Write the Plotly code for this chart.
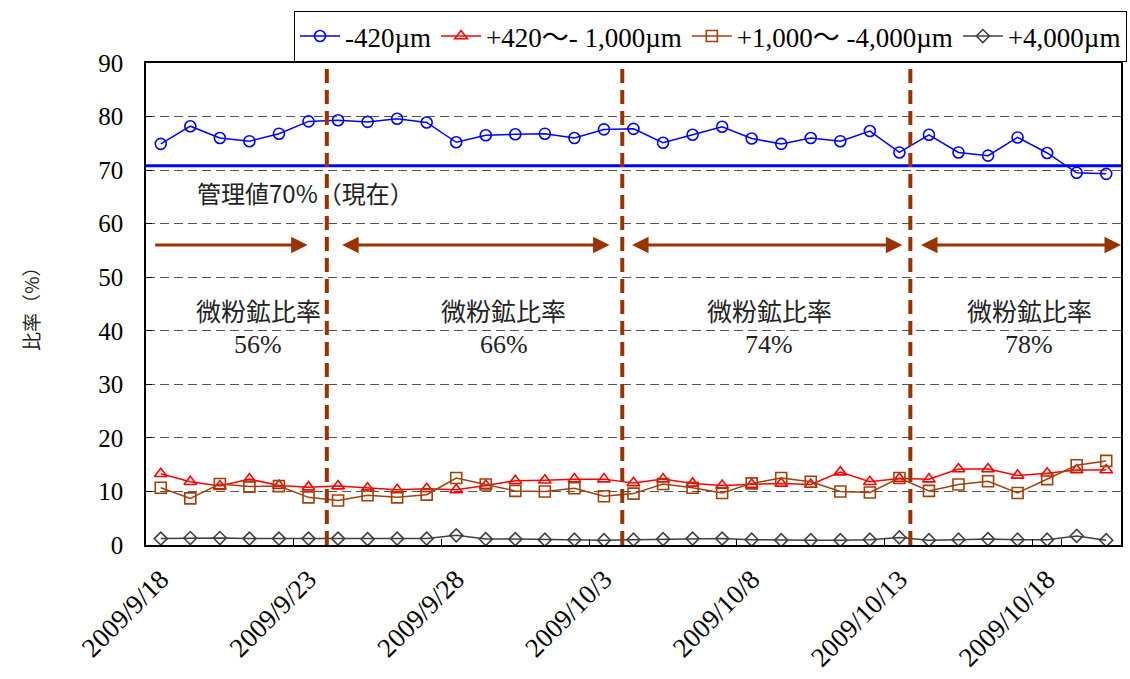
import plotly.graph_objects as go
import datetime as dt

start = dt.date(2009, 9, 18)
dates = [f"{(start + dt.timedelta(days=i)).year}/{(start + dt.timedelta(days=i)).month}/{(start + dt.timedelta(days=i)).day}" for i in range(33)]

fine_420 = [74.9, 78.2, 76.0, 75.4, 76.8, 79.1, 79.3, 79.0, 79.6, 78.9, 75.2, 76.5, 76.7, 76.8, 76.0, 77.6,
            77.7, 75.1, 76.6, 78.1, 75.9, 74.9, 76.0, 75.4, 77.3, 73.3, 76.6, 73.3, 72.7, 76.1, 73.2, 69.5, 69.3]
mid_420_1000 = [13.3, 11.8, 11.0, 12.3, 11.1, 10.8, 11.0, 10.6, 10.3, 10.5, 10.3, 11.1, 12.0, 12.1, 12.3, 12.3,
                11.6, 12.3, 11.5, 11.1, 11.3, 11.5, 11.3, 13.6, 11.8, 12.4, 12.3, 14.2, 14.2, 13.0, 13.4, 14.0, 14.0]
mid_1000_4000 = [10.7, 8.7, 11.4, 10.9, 11.0, 8.9, 8.3, 9.3, 8.9, 9.4, 12.5, 11.3, 10.1, 10.0, 10.6, 9.1,
                 9.6, 11.4, 10.7, 9.7, 11.5, 12.5, 11.8, 10.0, 9.8, 12.5, 10.1, 11.3, 11.9, 9.7, 12.3, 14.9, 15.7]
coarse_4000 = [1.2, 1.3, 1.3, 1.2, 1.2, 1.2, 1.2, 1.1, 1.2, 1.2, 1.8, 1.1, 1.1, 1.0, 1.0, 0.9,
               1.0, 1.1, 1.2, 1.2, 1.0, 0.9, 0.9, 0.9, 1.0, 1.4, 0.9, 1.0, 1.1, 1.0, 1.0, 1.7, 0.9]

series_names = ["-420µm", "+420～- 1,000µm", "+1,000～ -4,000µm", "+4,000µm"]
control_value = 70.8
period_title = "微粉鉱比率"
period_ratios = ["56%", "66%", "74%", "78%"]
period_label_x = [3.3, 11.6, 20.6, 29.4]
period_boundaries = [5.62, 15.62, 25.37]
arrow_spans = [(-0.24, 4.97, "end"), (6.09, 15.19, "end+start"), (15.9, 25.1, "end+start"), (25.68, 32.5, "end+start")]
arrow_level = 56
tick_dates = dates[::5]

SERIF = "Liberation Serif, Noto Sans CJK JP, serif"
CJK = "Noto Sans CJK JP, Liberation Serif"
BROWN = "#993300"

fig = go.Figure()
styles = [
    (fine_420, "#0000FF", "circle-open", 11),
    (mid_420_1000, "#FF0000", "triangle-up-open", 11),
    (mid_1000_4000, "#A0400A", "square-open", 11),
    (coarse_4000, "#404040", "diamond-open", 10),
]
for name, (vals, col, sym, sz) in zip(series_names, styles):
    fig.add_trace(go.Scatter(
        x=dates, y=vals, name=name, mode="lines+markers",
        line=dict(color=col, width=1.5),
        marker=dict(symbol=sym, size=sz, color=col, line=dict(color=col, width=1.6)),
    ))

fig.add_shape(type="line", xref="paper", x0=0, x1=1, yref="y", y0=control_value, y1=control_value,
              line=dict(color="#0000FF", width=3))
for b in period_boundaries:
    fig.add_shape(type="line", xref="x", x0=b, x1=b, yref="paper", y0=0, y1=1,
                  line=dict(color=BROWN, width=4, dash="14px,7px"))

annotations = []
annotations.append(dict(x=4.9, y=65.9, xref="x", yref="y", text="管理値70%（現在）", showarrow=False,
                        font=dict(family=CJK, size=24, color="#222")))
for lx, ratio in zip(period_label_x, period_ratios):
    annotations.append(dict(x=lx, y=43.9, xref="x", yref="y", text=period_title, showarrow=False,
                            font=dict(family=CJK, size=25, color="#222")))
    annotations.append(dict(x=lx, y=37.4, xref="x", yref="y", text=ratio, showarrow=False,
                            font=dict(family=SERIF, size=26, color="#222")))
for x0, x1, side in arrow_spans:
    annotations.append(dict(x=x1, y=arrow_level, ax=x0, ay=arrow_level, xref="x", yref="y",
                            axref="x", ayref="y", showarrow=True, arrowhead=2, arrowsize=1.1,
                            arrowwidth=3, arrowcolor=BROWN, arrowside=side, text=""))
annotations.append(dict(x=-0.119, y=0.5, xref="paper", yref="paper", xanchor="center", yanchor="middle",
                        text="比率（%）", textangle=-90,
                        showarrow=False, font=dict(family=CJK, size=19, color="#222")))

fig.update_layout(
    width=1130, height=679,
    margin=dict(l=146, r=9, t=63, b=134),
    plot_bgcolor="white", paper_bgcolor="white",
    font=dict(family=SERIF, size=22, color="black"),
    annotations=annotations,
    showlegend=True,
    legend=dict(orientation="h", xref="container", yref="container",
                x=1127 / 1130, xanchor="right", y=1 - 11 / 679, yanchor="top",
                bordercolor="black", borderwidth=1, font=dict(family=SERIF, size=27),
                itemwidth=40, tracegroupgap=0),
    xaxis=dict(type="category", range=[-0.5, 32.5], tickmode="array", tickvals=tick_dates, ticktext=tick_dates,
               tickangle=-45, tickfont=dict(family=SERIF, size=27), showgrid=False, automargin=False,
               showline=True, linecolor="black", linewidth=1.5, mirror=True,
               ticks="inside", ticklen=6, tickcolor="black", tickson="boundaries", ticklabelstandoff=6),
    yaxis=dict(range=[0, 90], dtick=10, tickfont=dict(family=SERIF, size=25), automargin=False,
               showgrid=True, gridcolor="#555555", griddash="9px,5px", gridwidth=1,
               showline=True, linecolor="black", linewidth=1.5, mirror=True,
               ticks="inside", ticklen=6, tickcolor="black", zeroline=False, ticklabelstandoff=16),
)

fig.write_html("out.html", config={"displayModeBar": False},
               post_script="document.body.style.margin='0px';")
